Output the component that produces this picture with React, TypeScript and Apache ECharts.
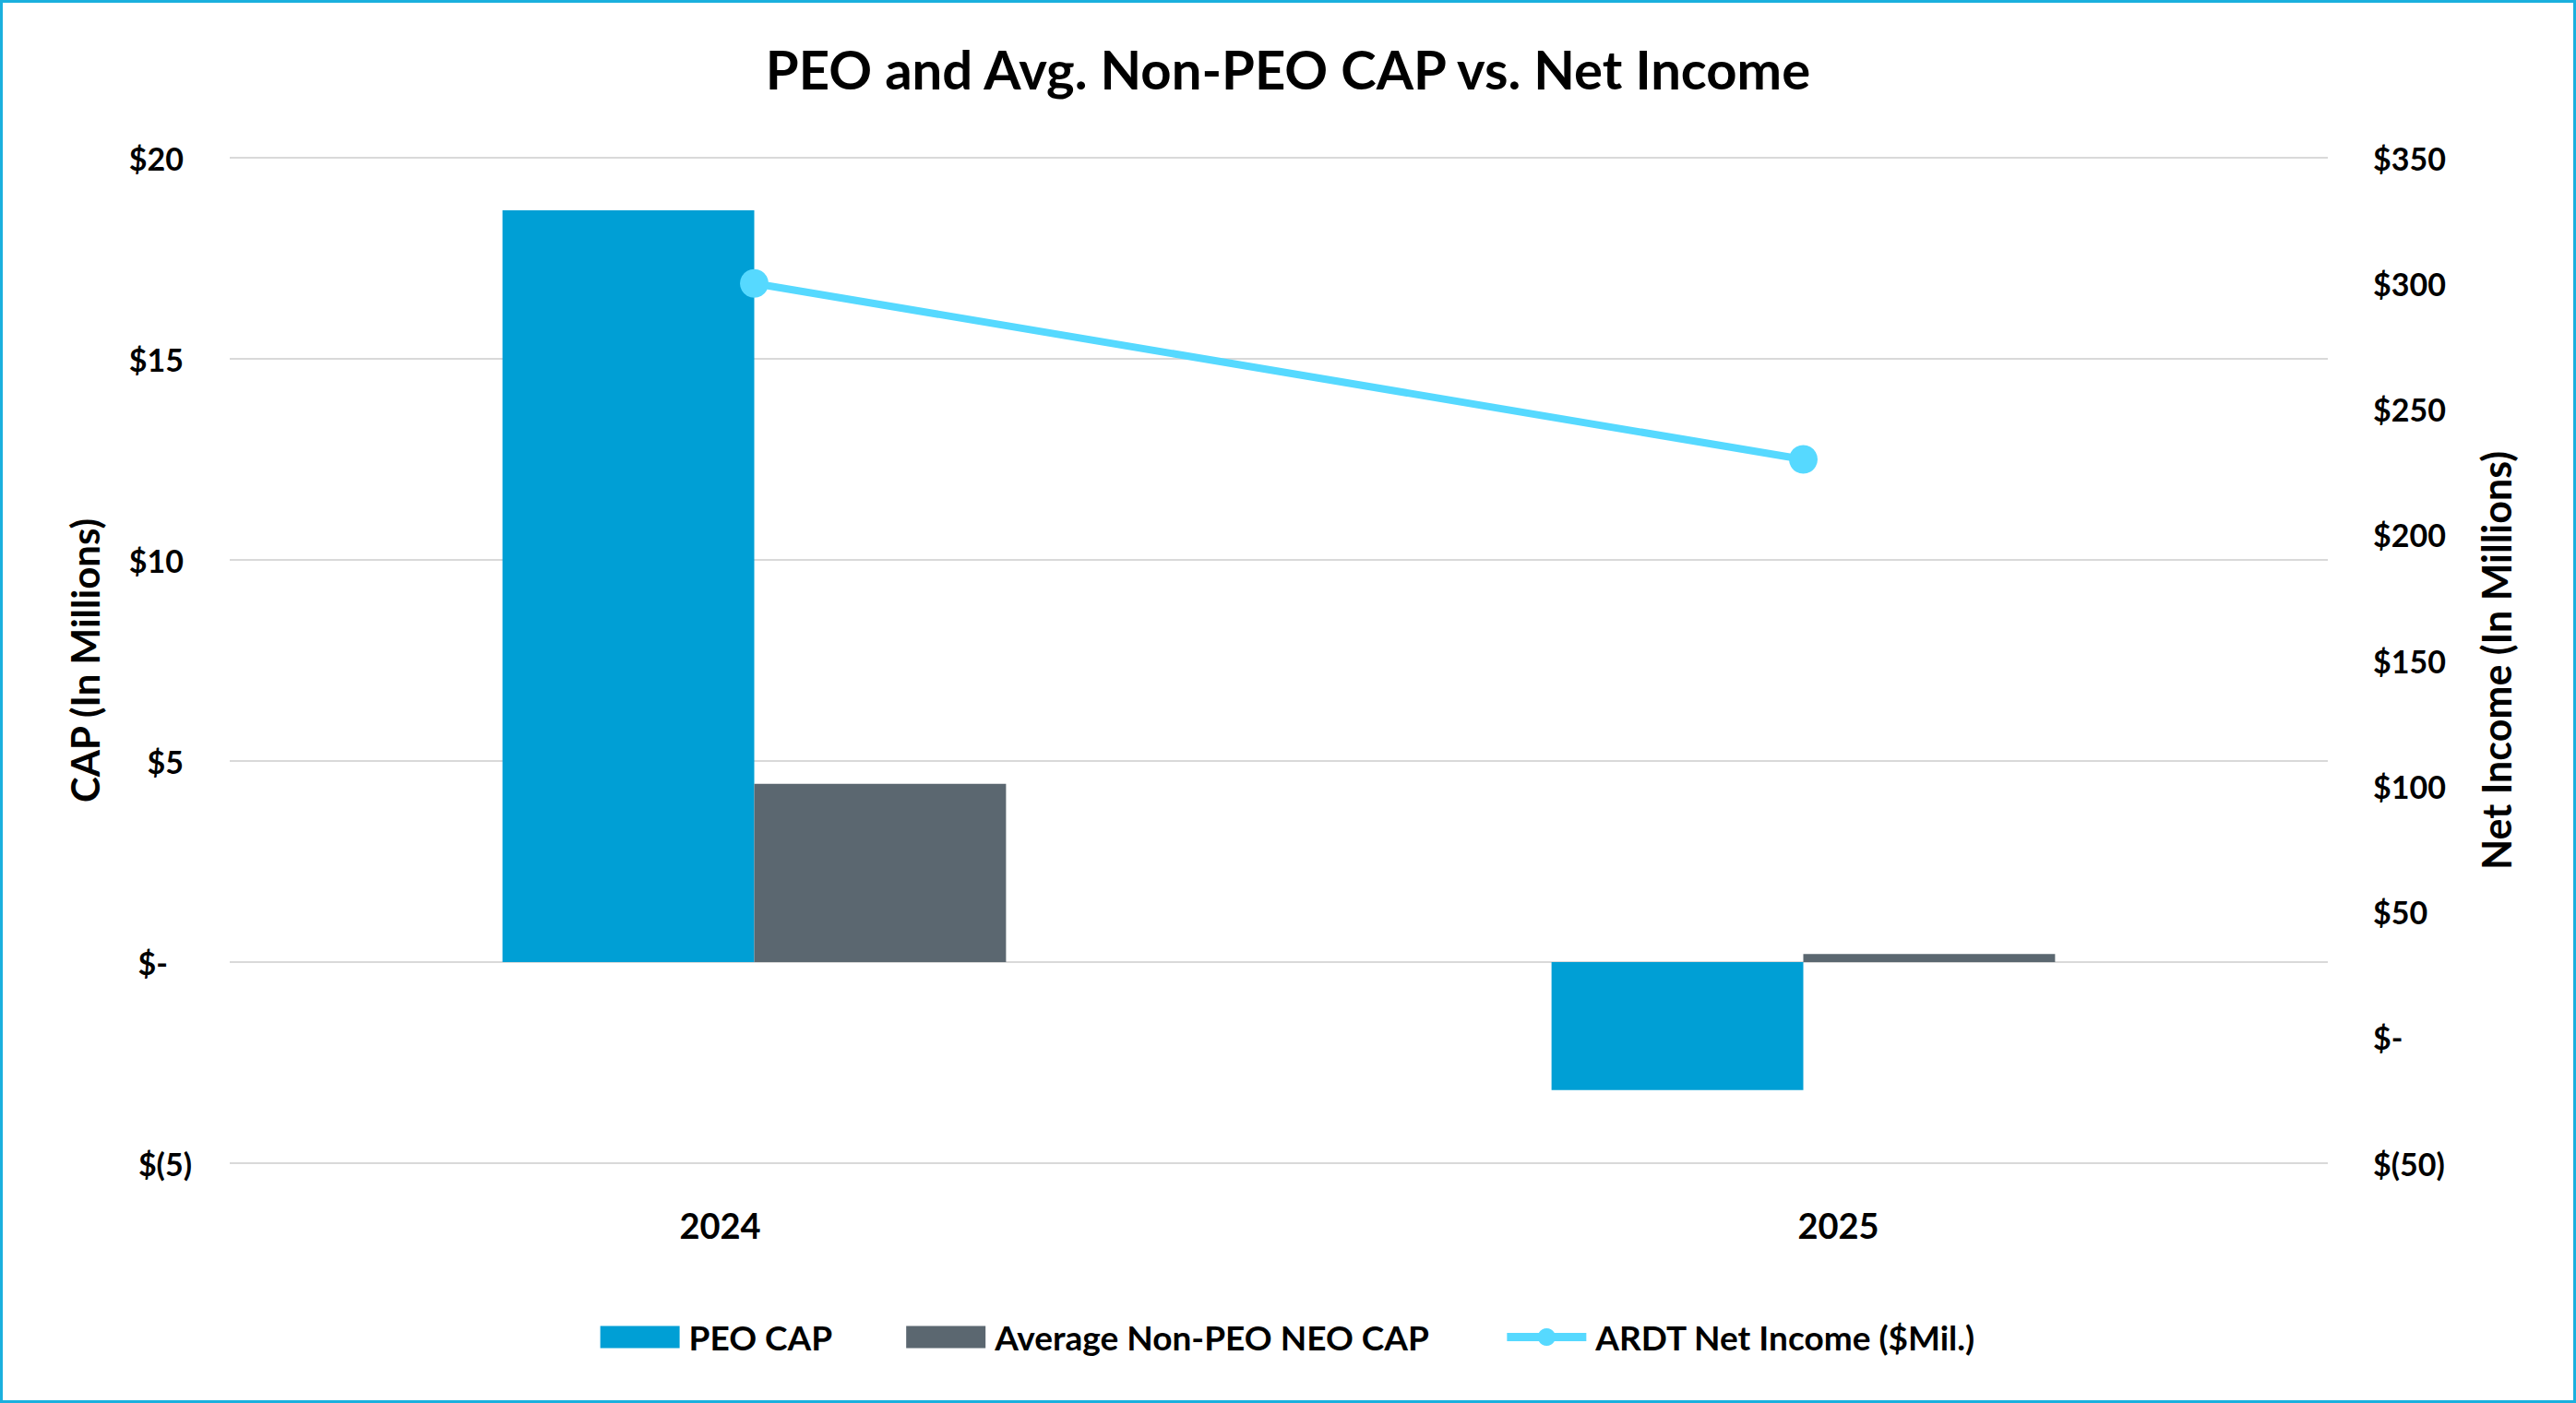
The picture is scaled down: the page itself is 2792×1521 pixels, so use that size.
import React, { useEffect, useRef } from "react";
import * as echarts from "echarts";

const categories = ["2024", "2025"];
const peoCap = [18.69, -3.18];
const avgNonPeoCap = [4.43, 0.2];
const netIncome = [300, 230];

const leftTicks = { min: -5, max: 20, interval: 5 };
const rightTicks = { min: -50, max: 350, interval: 50 };

const FONT = "Lato";
const LINE_COLOR = "#56D9FF";

export default function App() {
  const ref = useRef<HTMLDivElement>(null);

  useEffect(() => {
    document.body.style.margin = "0";
    const chart = echarts.init(ref.current!, null, { renderer: "svg" });
    const labelBase = { fontFamily: FONT, fontWeight: "bold" as const, fontSize: 34, color: "#000" };
    chart.setOption({
      animation: false,
      backgroundColor: "#fff",
      title: {
        text: "PEO and Avg. Non-PEO CAP vs. Net Income",
        left: "center",
        top: 40,
        textStyle: { fontFamily: FONT, fontWeight: "bold", fontSize: 58, color: "#000" },
      },
      legend: {
        left: "center",
        top: 1426,
        itemWidth: 86,
        itemHeight: 24,
        itemGap: 80,
        textStyle: { fontFamily: FONT, fontWeight: "bold", fontSize: 37, color: "#000", padding: [0, 0, 0, 5] },
        data: [
          { name: "PEO CAP", icon: "rect" },
          { name: "Average Non-PEO NEO CAP", icon: "rect" },
          {
            name: "ARDT Net Income ($Mil.)",
            lineStyle: { width: 9, color: LINE_COLOR },
            itemStyle: { color: LINE_COLOR },
          },
        ],
      },
      grid: { left: 249, right: 269, top: 171, bottom: 260, containLabel: false },
      xAxis: {
        type: "category",
        data: categories,
        axisLine: { show: false },
        axisTick: { show: false },
        axisLabel: {
          margin: 48,
          fontFamily: FONT,
          fontWeight: "bold",
          fontSize: 38,
          color: "#000",
          formatter: (v: string, i: number) => (i === 0 ? `{l|${v}}` : `{r|${v}}`),
          rich: {
            l: { fontFamily: FONT, fontWeight: "bold", fontSize: 38, color: "#000", padding: [0, 74, 0, 0] },
            r: { fontFamily: FONT, fontWeight: "bold", fontSize: 38, color: "#000", padding: [0, 0, 0, 76] },
          },
        },
      },
      yAxis: [
        {
          type: "value",
          min: leftTicks.min,
          max: leftTicks.max,
          interval: leftTicks.interval,
          name: "CAP (In Millions)",
          nameLocation: "middle",
          nameRotate: 90,
          nameGap: 136,
          nameTextStyle: { fontFamily: FONT, fontWeight: "bold", fontSize: 42, color: "#000" },
          axisLine: { show: false },
          axisTick: { show: false },
          splitLine: { show: true, lineStyle: { color: "#D9D9D9", width: 2 } },
          axisLabel: {
            margin: 41,
            ...labelBase,
            formatter: (v: number) => {
              if (v > 0) return `{p|$${v}}`;
              if (v === 0) return `{z|$-}`;
              return `{n|$(${-v})}`;
            },
            rich: {
              p: { ...labelBase, padding: [0, 9, 0, 0] },
              z: { ...labelBase, padding: [0, 26, 0, 0] },
              n: { ...labelBase },
            },
          },
        },
        {
          type: "value",
          position: "right",
          min: rightTicks.min,
          max: rightTicks.max,
          interval: rightTicks.interval,
          name: "Net Income (In Millions)",
          nameLocation: "middle",
          nameRotate: 90,
          nameGap: 161,
          nameTextStyle: { fontFamily: FONT, fontWeight: "bold", fontSize: 43, color: "#000" },
          axisLine: { show: false },
          axisTick: { show: false },
          splitLine: { show: false },
          axisLabel: {
            margin: 49,
            ...labelBase,
            formatter: (v: number) => {
              if (v > 0) return `$${v}`;
              if (v === 0) return `$-`;
              return `$(${-v})`;
            },
          },
        },
      ],
      series: [
        {
          name: "PEO CAP",
          type: "bar",
          data: peoCap,
          barGap: "0%",
          barCategoryGap: "52%",
          itemStyle: { color: "#009FD5" },
        },
        {
          name: "Average Non-PEO NEO CAP",
          type: "bar",
          data: avgNonPeoCap,
          barGap: "0%",
          barCategoryGap: "52%",
          itemStyle: { color: "#5B6770" },
        },
        {
          name: "ARDT Net Income ($Mil.)",
          type: "line",
          yAxisIndex: 1,
          data: netIncome,
          symbol: "circle",
          symbolSize: 31,
          lineStyle: { color: LINE_COLOR, width: 8 },
          itemStyle: { color: LINE_COLOR },
          z: 5,
        },
      ],
      graphic: [
        {
          type: "rect",
          shape: { x: 1.5, y: 1.5, width: 2789, height: 1518 },
          style: { fill: "none", stroke: "#1BB0DE", lineWidth: 3 },
          silent: true,
          z: 100,
        },
      ],
    });
    return () => chart.dispose();
  }, []);

  return <div ref={ref} style={{ width: 2792, height: 1521 }} />;
}
